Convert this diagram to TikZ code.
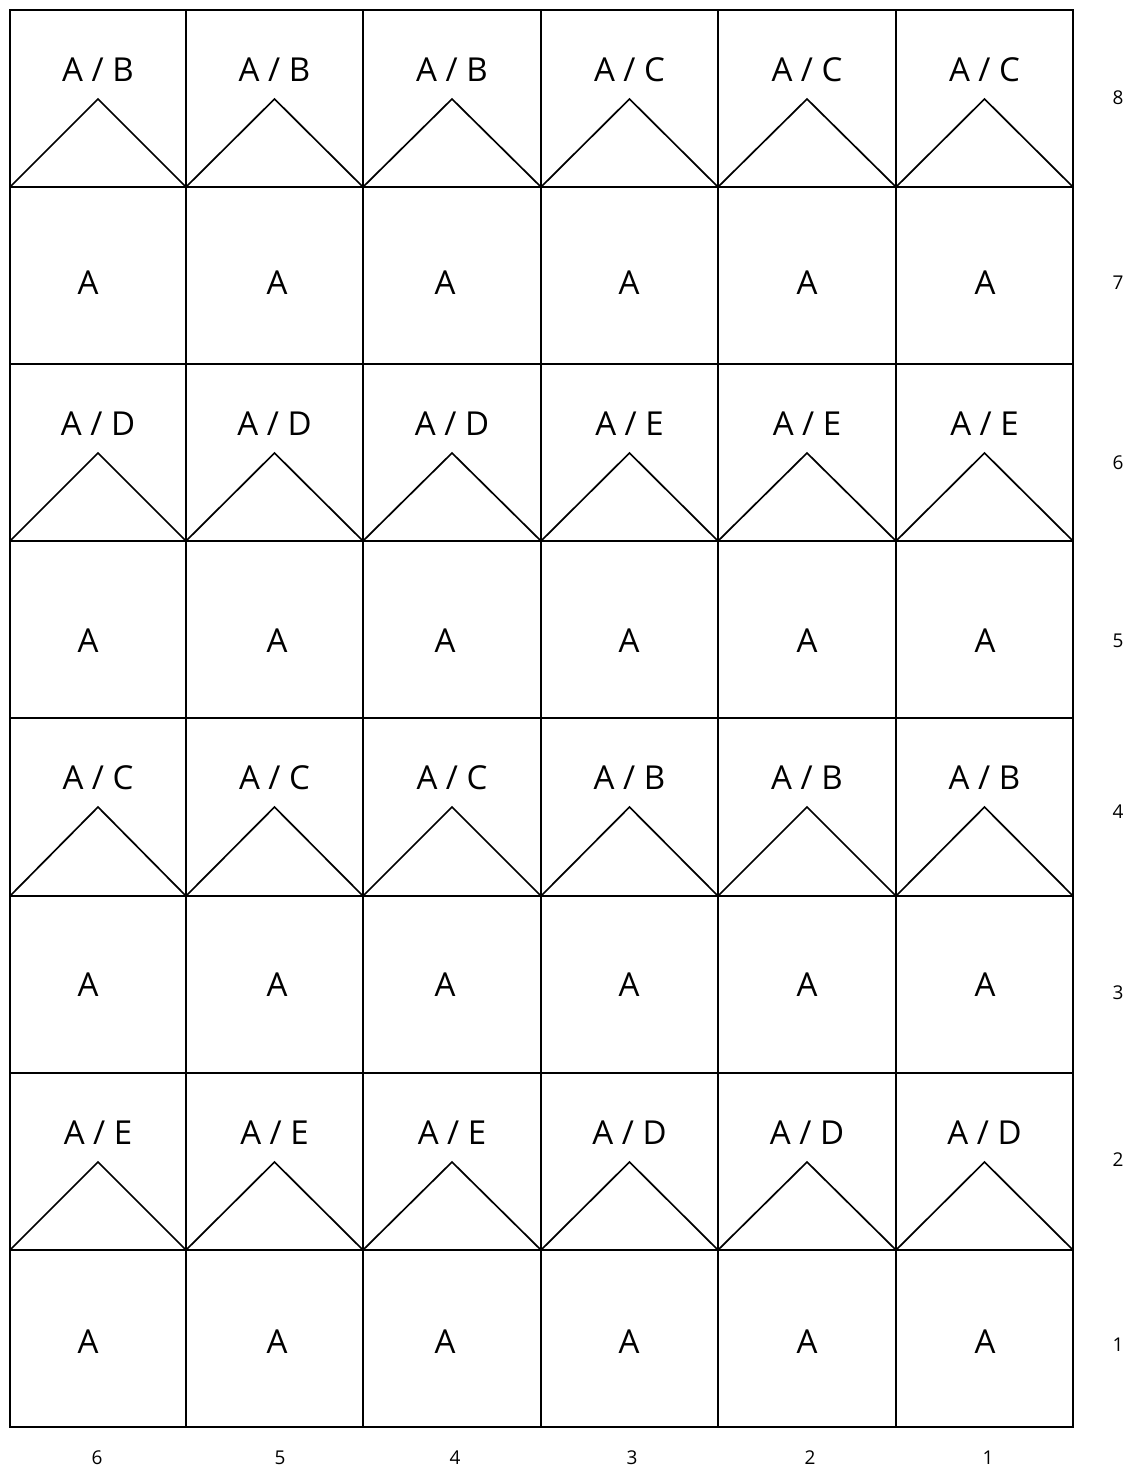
\documentclass[tikz,border=0pt]{standalone}
\usepackage{fontspec}
\setmainfont{Open Sans}

\begin{document}
\begin{tikzpicture}[x=0.5pt, y=-0.5pt,
  every node/.style={inner sep=0pt},
  cellbox/.style={draw, line width=1pt},
  roof/.style={line width=0.85pt},
  biglabel/.style={font=\fontsize{16.5}{18}\selectfont},
  smalllabel/.style={font=\fontsize{9.5}{11}\selectfont}]
\useasboundingbox (0,0) rectangle (1129,1468);
% Cells
\foreach \xl/\xr in {10/186, 186/363, 363/541, 541/718, 718/896, 896/1073}
  \foreach \yt/\yb in {10/187, 187/364, 364/541, 541/718, 718/896, 896/1073, 1073/1250, 1250/1427}
    \draw[cellbox] (\xl,\yt) rectangle (\xr,\yb);
% Roofs and their labels
\foreach \xl/\xr [count=\c] in {10/186, 186/363, 363/541, 541/718, 718/896, 896/1073}
  \foreach \yt/\yb/\p/\q [count=\r] in {10/187/B/C, 364/541/D/E, 718/896/C/B, 1073/1250/E/D} {
    \draw[roof] (\xl,\yb) -- ({(\xl+\xr)/2},\yt+89) -- (\xr,\yb);
    \node[biglabel] (roof-\r-\c) at ({(\xl+\xr)/2},\yt+60) {A / \ifnum\c<4 \p\else\q\fi};
  }
% Plain cells
\foreach \x [count=\c] in {88,277,445,629,807,985}
  \foreach \y [count=\r] in {283,641,985,1342}
    \node[biglabel] (flat-\r-\c) at (\x,\y) {A};
% Row and column numbers
\foreach \y/\n in {98/8, 283/7, 463/6, 641/5, 812/4, 993/3, 1160/2, 1345/1}
  \node[smalllabel] (row-\n) at (1118,\y) {\n};
\foreach \x/\n in {97/6, 280/5, 455/4, 632/3, 810/2, 988/1}
  \node[smalllabel] (col-\n) at (\x,1458) {\n};
\end{tikzpicture}
\end{document}
